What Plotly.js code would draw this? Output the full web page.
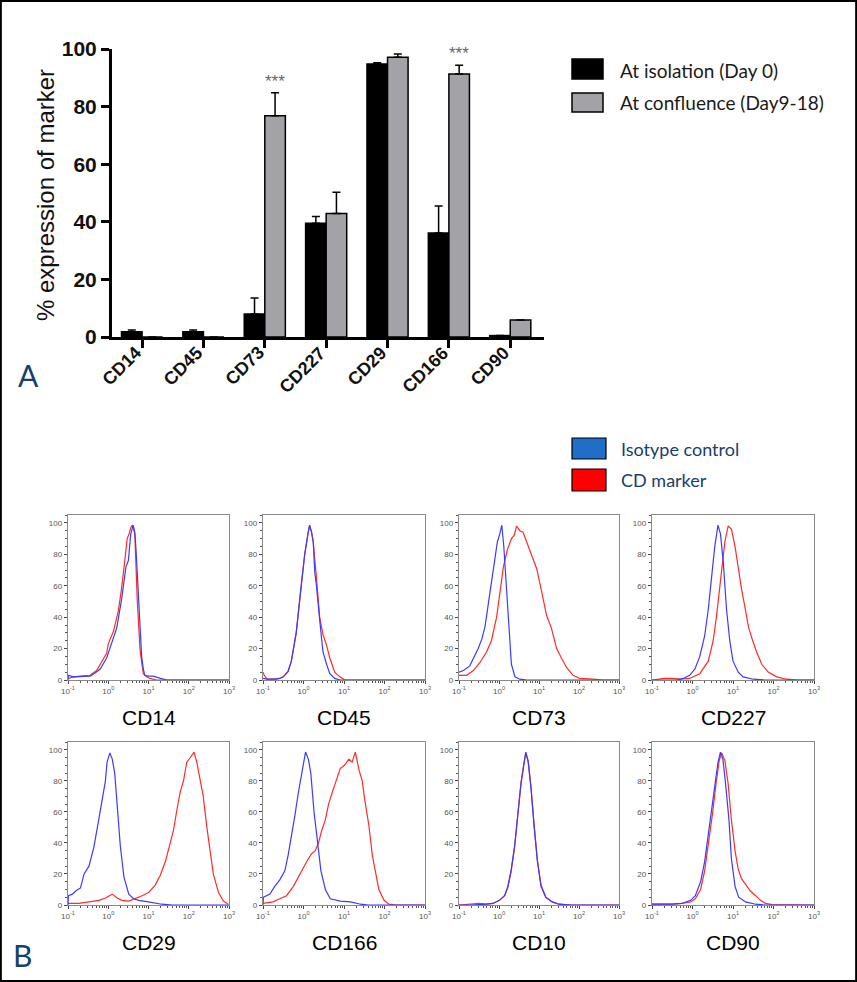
<!DOCTYPE html>
<html><head><meta charset="utf-8">
<script src="https://cdn.plot.ly/plotly-3.0.1.min.js"></script>
<style>html,body{margin:0;padding:0;background:#fff}</style>
</head><body><div id="chart" style="width:857px;height:982px"></div>
<script>
// ---------- Panel A data ----------
const categories = ['CD14','CD45','CD73','CD227','CD29','CD166','CD90'];
const isolation = [1.8, 1.8, 8, 39.5, 94.8, 36.1, 0.5];
const isolationErr = [0.6, 0.6, 5.5, 2.3, 0.4, 9.4, 0];
const confluence = [0, 0, 76.8, 42.9, 97.1, 91.3, 5.9];
const confluenceErr = [0, 0, 8, 7.4, 1.2, 3.1, 0];
const seriesNames = ['At isolation (Day 0)', 'At confluence (Day9-18)'];
const significant = ['CD73', 'CD166'];

// ---------- Panel B data (x as log10 of intensity, y as % of max) ----------
const histNames = ['CD14','CD45','CD73','CD227','CD29','CD166','CD10','CD90'];
const histLegend = ['Isotype control', 'CD marker'];
const decadeExps = [-1, 0, 1, 2, 3];
const decadeLabels = ['10<sup>-1</sup>','10<sup>0</sup>','10<sup>1</sup>','10<sup>2</sup>','10<sup>3</sup>'];

const CD14_isoX = [-1,-0.99,-0.87,-0.6,-0.45,-0.3,-0.2,-0.04,0.08,0.21,0.33,0.44,0.5,0.56,0.62,0.66,0.69,0.72,0.75,0.79,0.83,0.87,0.91,1.0,1.12,1.3,1.45,2,3];
const CD14_isoY = [0,3,2,2.5,2.5,5,7,14,23,33,51,72,76,93,98.5,94,83,70,51,32,15,7,3,2.5,2.5,1,0,0,0];
const CD14_mkX = [-1,-0.85,-0.7,-0.45,-0.29,-0.12,-0.04,0,0.13,0.25,0.33,0.42,0.47,0.52,0.56,0.6,0.66,0.72,0.79,0.87,0.95,1.04,1.2,3];
const CD14_mkY = [1,2,2.5,3,6,14,17,23,31,44,58,78,90,93,97,98.5,93,51,19,4,2,1,0,0];

const CD45_isoX = [-1,-0.9,-0.7,-0.59,-0.5,-0.38,-0.3,-0.18,-0.05,0.03,0.11,0.15,0.2,0.24,0.28,0.32,0.4,0.48,0.57,0.65,0.77,0.9,3];
const CD45_isoY = [1,0.5,0.5,1,2,5.5,12,30,62,80,93,98.5,94,88,68,60,38,18,10,4,1,0,0];
const CD45_mkX = [-1,-0.97,-0.9,-0.7,-0.59,-0.5,-0.38,-0.3,-0.18,-0.05,0.03,0.11,0.15,0.2,0.24,0.32,0.4,0.48,0.57,0.65,0.77,0.9,1.02,3];
const CD45_mkY = [5,3,0.5,0.5,1,2,5.5,12,30,62,80,93,98.5,94,88,65,40,29,22,14,5,2,0,0];

const CD73_isoX = [-1,-0.89,-0.73,-0.6,-0.52,-0.43,-0.35,-0.27,-0.2,-0.1,-0.04,0.02,0.07,0.12,0.19,0.25,0.31,0.4,0.52,0.7,3];
const CD73_isoY = [5,6,9,16,20,26,34,48,60,75,88,93,98.5,85,55,28,10,2,0.5,0,0];
const CD73_mkX = [-1,-0.81,-0.64,-0.48,-0.31,-0.19,-0.06,0.06,0.11,0.21,0.31,0.38,0.44,0.52,0.6,0.69,0.81,0.94,1.06,1.19,1.31,1.44,1.56,1.69,1.85,2.02,2.35,2.6,3];
const CD73_mkY = [3,3,6,11,18,25,40,63,72,83,90,92,98,95,94,88,80,71,57,41,33,20,14,8,3,1,0.5,0,0];

const CD227_isoX = [-1,-0.4,-0.23,-0.07,0.06,0.18,0.3,0.39,0.47,0.55,0.63,0.69,0.76,0.84,0.92,1.0,1.13,1.25,1.5,1.8,3];
const CD227_isoY = [0,0,1,3,7,15,28,45,65,85,98.5,93,75,45,25,12,5,2,0.5,0,0];
const CD227_mkX = [-1,-0.7,-0.5,-0.3,-0.07,0.18,0.39,0.51,0.59,0.72,0.8,0.88,0.96,1.05,1.13,1.21,1.29,1.38,1.46,1.58,1.71,1.87,2.08,2.32,2.6,3];
const CD227_mkY = [0,1,1,0.5,1,4,12,25,40,70,88,98,96,85,70,58,47,34,27,18,10,5,2,0.5,0,0];

const CD29_isoX = [-1,-0.99,-0.89,-0.81,-0.69,-0.6,-0.48,-0.36,-0.27,-0.19,-0.07,-0.03,0.04,0.1,0.16,0.22,0.3,0.39,0.51,0.63,0.76,1.0,1.33,1.6,3];
const CD29_isoY = [0,6,7,9,11,20,25,37,50,63,80,92,98,94,85,65,38,18,7,4,3,2,0.5,0,0];
const CD29_mkX = [-1,-0.73,-0.48,-0.23,-0.07,0.1,0.22,0.34,0.51,0.67,0.84,1.0,1.17,1.29,1.42,1.54,1.62,1.71,1.79,1.87,1.95,2.04,2.13,2.2,2.28,2.36,2.45,2.53,2.61,2.74,2.86,2.98];
const CD29_mkY = [1,1,2,3,4.5,7,4.5,3,2.5,4,6,8,13,19,28,40,48,62,73,80,92,95,98.5,92,82,70,50,35,20,8,2.5,0.5];

const CD166_isoX = [-1,-0.99,-0.83,-0.71,-0.59,-0.46,-0.38,-0.29,-0.21,-0.13,-0.05,0,0.05,0.12,0.18,0.26,0.34,0.43,0.54,0.66,0.91,1.16,1.41,1.6,3];
const CD166_isoY = [0,5,7,12,16,22,32,45,58,72,85,92,98.5,94,85,60,40,22,10,4,2.5,2,0.5,0,0];
const CD166_mkX = [-1,-0.75,-0.59,-0.42,-0.25,-0.09,0.08,0.2,0.29,0.37,0.45,0.54,0.62,0.74,0.83,0.91,1.01,1.12,1.2,1.28,1.37,1.45,1.51,1.61,1.7,1.78,1.86,1.99,2.11,2.3,3];
const CD166_mkY = [1,2,4,6,12,20,28,33,35,40,48,55,65,75,82,88,90,94,92,98.5,87,80,68,52,32,20,10,3,0.5,0,0];

const CD10_isoX = [-1,-0.7,-0.32,-0.15,0.01,0.14,0.22,0.3,0.39,0.47,0.55,0.62,0.67,0.73,0.8,0.88,0.96,1.05,1.17,1.33,1.5,1.8,3];
const CD10_isoY = [0,0,0.5,1,3,6,12,22,38,58,78,90,98.5,92,75,50,28,12,5,2,0.5,0,0];
const CD10_mkX = [-1,-0.65,-0.5,-0.32,-0.15,0.01,0.14,0.22,0.3,0.39,0.47,0.55,0.62,0.67,0.73,0.8,0.88,0.96,1.05,1.17,1.33,1.5,1.8,3];
const CD10_mkY = [0,1,1,0.5,1,3,6,11,21,37,58,79,91,98,93,76,51,29,13,5,2,0.5,0,0];

const CD90_isoX = [-1,-0.5,-0.26,-0.05,0.07,0.2,0.3,0.39,0.48,0.57,0.63,0.69,0.75,0.81,0.9,0.96,1.05,1.14,1.31,1.56,1.8,3];
const CD90_isoY = [0.5,0.5,1,3,6,15,28,45,62,78,92,98.5,94,80,55,30,12,5,2,0.5,0,0];
const CD90_mkX = [-1,-0.5,-0.26,-0.05,0.07,0.2,0.3,0.4,0.5,0.58,0.66,0.72,0.8,0.88,0.96,1.05,1.13,1.21,1.31,1.43,1.56,1.68,1.8,1.97,3];
const CD90_mkY = [0.5,0.5,1,2,4,10,22,40,60,78,93,98,93,78,55,35,23,17,13,9,6,3,1,0.3,0];

const histSeries = {
  CD14: [CD14_isoX, CD14_isoY, CD14_mkX, CD14_mkY],
  CD45: [CD45_isoX, CD45_isoY, CD45_mkX, CD45_mkY],
  CD73: [CD73_isoX, CD73_isoY, CD73_mkX, CD73_mkY],
  CD227: [CD227_isoX, CD227_isoY, CD227_mkX, CD227_mkY],
  CD29: [CD29_isoX, CD29_isoY, CD29_mkX, CD29_mkY],
  CD166: [CD166_isoX, CD166_isoY, CD166_mkX, CD166_mkY],
  CD10: [CD10_isoX, CD10_isoY, CD10_mkX, CD10_mkY],
  CD90: [CD90_isoX, CD90_isoY, CD90_mkX, CD90_mkY]
};

// ---------- layout helpers (pixel -> paper) ----------
const W = 857, H = 982;
const px = v => v / W;
const py = v => 1 - v / H;

const BLACK = '#000000', GREY = '#a3a3a7';
const BLUE_LINE = '#3b3bff', RED_LINE = '#ff2b2b';
const NAVY = '#17406b';

const traces = [];
traces.push({
  type: 'bar', name: seriesNames[0], x: categories, y: isolation,
  xaxis: 'x', yaxis: 'y',
  marker: {color: BLACK, line: {color: BLACK, width: 1.5}},
  error_y: {type: 'data', symmetric: false, array: isolationErr, arrayminus: isolationErr.map(() => 0),
            color: BLACK, thickness: 1.5, width: 4}
});
traces.push({
  type: 'bar', name: seriesNames[1], x: categories, y: confluence,
  xaxis: 'x', yaxis: 'y',
  marker: {color: GREY, line: {color: BLACK, width: 1.5}},
  error_y: {type: 'data', symmetric: false, array: confluenceErr, arrayminus: confluenceErr.map(() => 0),
            color: BLACK, thickness: 1.5, width: 4}
});

// histogram panel positions (pixels)
const colPx = [[68,229],[263,425],[459,619],[652,814]];
const rowPx = [[515,680],[742,905]];
const labelY = [717, 942];

const layout = {
  width: W, height: H,
  margin: {l: 0, r: 0, t: 0, b: 0},
  paper_bgcolor: '#fff', plot_bgcolor: '#fff',
  showlegend: false,
  barmode: 'group', bargap: 0.33, bargroupgap: 0,
  font: {family: 'Liberation Sans, Arial, sans-serif', color: '#000'},
  xaxis: {
    domain: [px(112), px(544)], anchor: 'y', range: [-0.49, 6.55],
    showline: true, linecolor: '#000', linewidth: 3,
    ticks: 'outside', ticklen: 8, tickwidth: 3, tickcolor: '#000',
    showticklabels: false,
    showgrid: false, zeroline: false, fixedrange: true
  },
  yaxis: {
    domain: [py(337), py(49)], anchor: 'x', range: [0, 100],
    tickvals: [0,20,40,60,80,100],
    showline: true, linecolor: '#000', linewidth: 3,
    ticks: 'outside', ticklen: 8, tickwidth: 3, tickcolor: '#000',
    tickfont: {size: 21, weight: 'bold', color: '#111'},
    showgrid: false, zeroline: false, fixedrange: true
  },
  annotations: [], shapes: []
};

// rotated category labels of panel A
categories.forEach((c, i) => {
  layout.annotations.push({
    xref: 'x', yref: 'y', x: i, y: 0, text: c, textangle: -45, showarrow: false,
    xanchor: 'right', yanchor: 'top', xshift: 6, yshift: -3,
    font: {size: 18, weight: 'bold', color: '#111', family: 'Liberation Sans, Arial, sans-serif'}
  });
});

histNames.forEach((name, i) => {
  const k = i + 2;
  const col = colPx[i % 4], row = rowPx[Math.floor(i / 4)];
  layout['xaxis' + k] = {
    domain: [px(col[0]), px(col[1])], anchor: 'y' + k, type: 'log', range: [-1, 3],
    tickmode: 'array', tickvals: decadeExps.map(e => Math.pow(10, e)), ticktext: decadeLabels,
    ticks: 'outside', ticklen: 3, tickwidth: 1, tickcolor: '#444',
    minor: {ticks: 'outside', ticklen: 2, dtick: 'D1', tickcolor: '#555', showgrid: false},
    tickfont: {size: 8, color: '#555'},
    showline: true, mirror: true, linecolor: '#8a8a8a', linewidth: 1.2,
    showgrid: false, zeroline: false
  };
  layout['yaxis' + k] = {
    domain: [py(row[1]), py(row[0])], anchor: 'x' + k, range: [0, 105],
    tickvals: [0,20,40,60,80,100],
    ticks: 'outside', ticklen: 3, tickwidth: 1, tickcolor: '#444',
    minor: {dtick: 5, ticks: 'outside', ticklen: 2, tickcolor: '#555'},
    tickfont: {size: 8, color: '#555'},
    showline: true, mirror: true, linecolor: '#8a8a8a', linewidth: 1.2,
    showgrid: false, zeroline: false
  };
  const s = histSeries[name];
  traces.push({type: 'scatter', mode: 'lines', name: histLegend[1], x: s[2].map(v => Math.pow(10, v)), y: s[3],
    xaxis: 'x' + k, yaxis: 'y' + k, line: {color: RED_LINE, width: 1.2}});
  traces.push({type: 'scatter', mode: 'lines', name: histLegend[0], x: s[0].map(v => Math.pow(10, v)), y: s[1],
    xaxis: 'x' + k, yaxis: 'y' + k, line: {color: BLUE_LINE, width: 1.2}});
  layout.annotations.push({
    xref: 'paper', yref: 'paper', x: px((col[0] + col[1]) / 2), y: py(labelY[Math.floor(i / 4)]),
    text: name, showarrow: false, xanchor: 'center', yanchor: 'middle',
    font: {size: 21, color: '#000', family: 'Liberation Sans, Arial, sans-serif'}
  });
});

// significance stars above grey bars
const barOffset = (1 - 0.33) / 4;
significant.forEach(c => {
  const idx = categories.indexOf(c);
  layout.annotations.push({
    xref: 'x', yref: 'y', x: idx + barOffset, y: confluence[idx] + confluenceErr[idx],
    text: '***', showarrow: false, yanchor: 'bottom', yshift: 0,
    font: {size: 17, color: '#666'}
  });
});

// y-axis title of panel A
layout.annotations.push({
  xref: 'paper', yref: 'paper', x: px(45), y: py(195), text: '% expression of marker',
  textangle: -90, showarrow: false, xanchor: 'center', yanchor: 'middle',
  font: {size: 24, color: '#111'}
});

// legends
const legFont = {family: 'Lato, Noto Sans, sans-serif', size: 19, color: '#1a1a1a'};
layout.shapes.push({type: 'rect', xref: 'paper', yref: 'paper', x0: px(572), x1: px(603), y0: py(79), y1: py(59),
  fillcolor: BLACK, line: {color: '#000', width: 1.5}});
layout.shapes.push({type: 'rect', xref: 'paper', yref: 'paper', x0: px(572), x1: px(603), y0: py(112), y1: py(93),
  fillcolor: GREY, line: {color: '#000', width: 1.5}});
layout.annotations.push({xref: 'paper', yref: 'paper', x: px(618), y: py(70), text: seriesNames[0],
  showarrow: false, xanchor: 'left', yanchor: 'middle', font: legFont});
layout.annotations.push({xref: 'paper', yref: 'paper', x: px(618), y: py(103), text: seriesNames[1],
  showarrow: false, xanchor: 'left', yanchor: 'middle', font: legFont});

const legFontB = {family: 'Lato, Noto Sans, sans-serif', size: 18, color: NAVY};
layout.shapes.push({type: 'rect', xref: 'paper', yref: 'paper', x0: px(572), x1: px(606), y0: py(459), y1: py(438),
  fillcolor: '#1f6fc6', line: {color: '#000', width: 1.2}});
layout.shapes.push({type: 'rect', xref: 'paper', yref: 'paper', x0: px(572), x1: px(606), y0: py(491), y1: py(469),
  fillcolor: '#ff0000', line: {color: '#000', width: 1.2}});
layout.annotations.push({xref: 'paper', yref: 'paper', x: px(619), y: py(449), text: histLegend[0],
  showarrow: false, xanchor: 'left', yanchor: 'middle', font: legFontB});
layout.annotations.push({xref: 'paper', yref: 'paper', x: px(619), y: py(480), text: histLegend[1],
  showarrow: false, xanchor: 'left', yanchor: 'middle', font: legFontB});

// panel letters
layout.annotations.push({xref: 'paper', yref: 'paper', x: px(28), y: py(375), text: 'A',
  showarrow: false, xanchor: 'center', yanchor: 'middle', font: {family: 'Lato, sans-serif', size: 30, color: NAVY}});
layout.annotations.push({xref: 'paper', yref: 'paper', x: px(22), y: py(955), text: 'B',
  showarrow: false, xanchor: 'center', yanchor: 'middle', font: {family: 'Lato, sans-serif', size: 30, color: NAVY}});

// outer frame
layout.shapes.push({type: 'rect', xref: 'paper', yref: 'paper', x0: 0.001, x1: 0.999, y0: 0.001, y1: 0.999,
  line: {color: '#000', width: 2}, fillcolor: 'rgba(0,0,0,0)'});

Plotly.newPlot('chart', traces, layout, {displayModeBar: false, staticPlot: true});
</script></body></html>
